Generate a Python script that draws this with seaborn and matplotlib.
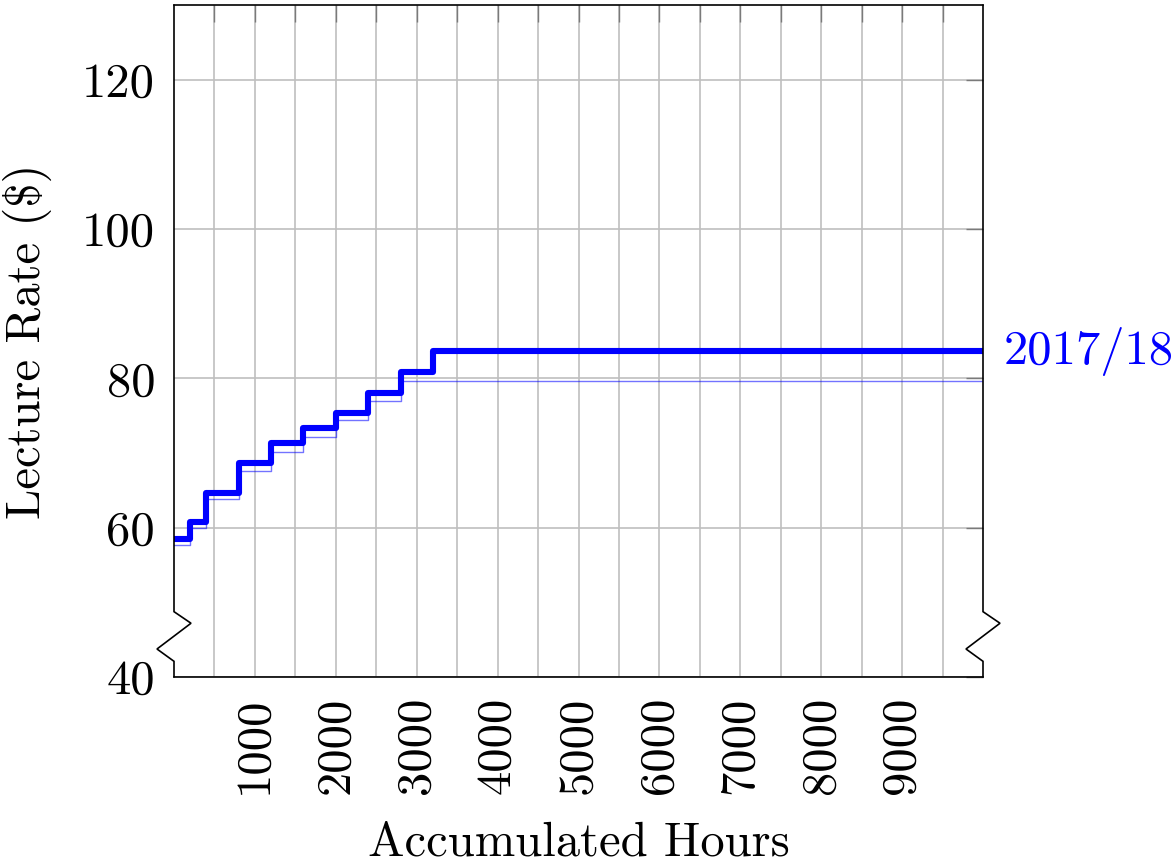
import matplotlib
matplotlib.use('Agg')
import matplotlib.pyplot as plt
import seaborn as sns
import pandas as pd

# Lecture rate steps (hours where each step starts, $ rate)
hours_1718 = [0, 200, 400, 800, 1200, 1600, 2000, 2400, 2800, 3200]
rate_1718 = [58.5, 60.8, 64.6, 68.6, 71.3, 73.3, 75.4, 78.1, 80.8, 83.6]
hours_prev = [0, 200, 400, 800, 1200, 1600, 2000, 2400, 2800]
rate_prev = [57.7, 60.0, 63.8, 67.6, 70.2, 72.2, 74.4, 77.0, 79.7]
hours_end = 10000
series_label = '2017/18'

x_ticks = [500, 1000, 1500, 2000, 2500, 3000, 3500, 4000, 4500,
           5000, 5500, 6000, 6500, 7000, 7500, 8000, 8500, 9000, 9500]
x_tick_labels = ['', '1000', '', '2000', '', '3000', '', '4000', '',
                 '5000', '', '6000', '', '7000', '', '8000', '', '9000', '']
y_ticks = [40, 60, 80, 100, 120]
y_tick_labels = ['40', '60', '80', '100', '120']


def step_frame(hours, rates):
    # carry the last rate out to the end of the axis
    return pd.DataFrame({'hours': hours + [hours_end],
                         'rate': rates + [rates[-1]]})


sns.set_theme(style='white')
plt.rcParams['font.family'] = ['cmr10', 'DejaVu Serif']
plt.rcParams['axes.formatter.use_mathtext'] = True
plt.rcParams['font.size'] = 35
plt.rcParams['text.color'] = 'black'
plt.rcParams['axes.labelcolor'] = 'black'
plt.rcParams['xtick.labelcolor'] = 'black'
plt.rcParams['ytick.labelcolor'] = 'black'

fig = plt.figure(figsize=(11.76, 8.64), dpi=100)
ax = fig.add_axes([174 / 1176, 1 - 677 / 864, 809 / 1176, 672 / 864])

sns.lineplot(data=step_frame(hours_1718, rate_1718), x='hours', y='rate',
             drawstyle='steps-post', color='blue', linewidth=4.4,
             estimator=None, ax=ax)
sns.lineplot(data=step_frame(hours_prev, rate_prev), x='hours', y='rate',
             drawstyle='steps-post', color='blue', alpha=0.55, linewidth=1.0,
             estimator=None, ax=ax)

ax.set_xlim(0, hours_end)
ax.set_ylim(40, 130)
ax.set_xticks(x_ticks)
ax.set_xticklabels(x_tick_labels, rotation=90)
ax.set_yticks(y_ticks)
ax.set_yticklabels(y_tick_labels)

ax.grid(True, color='#bfbfbf', linewidth=1.2)
ax.set_axisbelow(True)
ax.tick_params(axis='both', direction='in', length=12, width=1.0,
               color='#7a7a7a', labelsize=35, labelcolor='black',
               top=True, right=True)
ax.tick_params(axis='x', pad=14)
ax.tick_params(axis='y', pad=13.5)

ax.set_xlabel('Accumulated Hours', fontsize=35, labelpad=20, color='black')
ax.set_ylabel(r'Lecture Rate (\$)', fontsize=35, labelpad=22, color='black')

# axis break on left and right edges
for s in ['left', 'right']:
    ax.spines[s].set_visible(False)
for s in ['top', 'bottom']:
    ax.spines[s].set_color('black')
    ax.spines[s].set_linewidth(1.2)

brk_hi, brk_a, brk_b, brk_lo = 48.75, 47.2, 43.75, 42.1
dx = 17 / 809
trans = ax.get_yaxis_transform()
for x0 in [0, 1]:
    ax.plot([x0, x0, x0 + dx, x0 - dx, x0, x0],
            [130, brk_hi, brk_a, brk_b, brk_lo, 40],
            color='black', linewidth=1.2, transform=trans, clip_on=False,
            solid_joinstyle='miter', zorder=5)

ax.annotate(series_label, xy=(hours_end, rate_1718[-1]), xytext=(15, 0),
            textcoords='offset points', ha='left', va='center',
            color='blue', fontsize=35, annotation_clip=False)

fig.savefig('out.png', dpi=100)
